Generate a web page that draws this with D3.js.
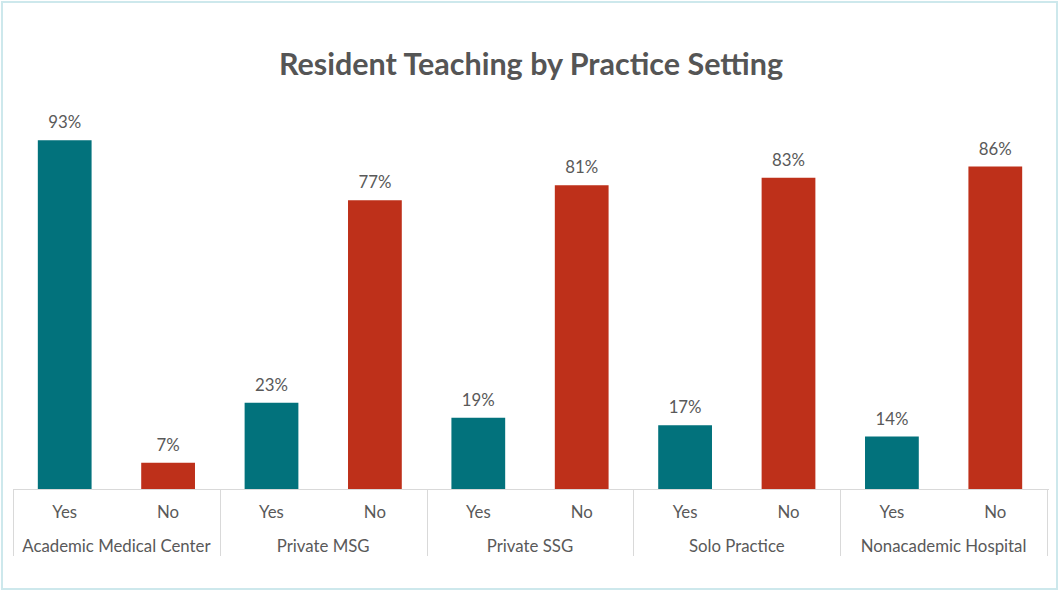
<!DOCTYPE html>
<html><head><meta charset="utf-8">
<script src="https://cdn.jsdelivr.net/npm/d3@7"></script>
<style>body{margin:0;background:#fff;} svg{display:block;font-family:Lato,"Open Sans",sans-serif;}</style>
</head><body>
<svg id="c" width="1059" height="592"></svg>
<script>
const categories = ["Academic Medical Center","Private MSG","Private SSG","Solo Practice","Nonacademic Hospital"];
const answers = ["Yes","No"];
const yesValues = [93,23,19,17,14];
const noValues = [7,77,81,83,86];
const colors = {Yes:"#02727C", No:"#BE301A"};

const svg = d3.select("#c");
const W=1059,H=592;
svg.append("rect").attr("x",2).attr("y",2).attr("width",W-4).attr("height",H-5)
  .attr("fill","#fff").attr("stroke","#cde8ec").attr("stroke-width",2);

svg.append("text").attr("x",531).attr("y",75).attr("text-anchor","middle")
  .attr("font-size",30.5).attr("font-weight","bold").attr("fill","#555")
  .text("Resident Teaching by Practice Setting");

const left=13,right=1047,base=489;
const x0=d3.scaleBand().domain(categories).range([left,right]);
const x1=d3.scaleBand().domain(answers).range([0,x0.bandwidth()]).paddingInner(0.48).paddingOuter(0.24);
const y=d3.scaleLinear().domain([0,100]).range([base,114]);

const data = categories.map((c,i)=>({cat:c, vals:[{k:"Yes",v:yesValues[i]},{k:"No",v:noValues[i]}]}));
const g=svg.selectAll("g.grp").data(data).join("g").attr("transform",d=>`translate(${x0(d.cat)},0)`);
g.selectAll("rect").data(d=>d.vals).join("rect")
  .attr("x",d=>x1(d.k)).attr("width",x1.bandwidth())
  .attr("y",d=>y(d.v)).attr("height",d=>base-y(d.v)).attr("fill",d=>colors[d.k]);
g.selectAll("text.val").data(d=>d.vals).join("text").attr("class","val")
  .attr("x",d=>x1(d.k)+x1.bandwidth()/2).attr("y",d=>y(d.v)-12)
  .attr("text-anchor","middle").attr("font-size",16.8).attr("fill","#595959")
  .text(d=>d.v+"%");
g.selectAll("text.ans").data(d=>d.vals).join("text").attr("class","ans")
  .attr("x",d=>x1(d.k)+x1.bandwidth()/2).attr("y",518)
  .attr("text-anchor","middle").attr("font-size",16.8).attr("fill","#595959")
  .text(d=>d.k);
g.append("text").attr("x",x0.bandwidth()/2).attr("y",552).attr("text-anchor","middle")
  .attr("font-size",16.8).attr("fill","#595959").text(d=>d.cat);

// axis lines
svg.append("line").attr("x1",left).attr("x2",right+2).attr("y1",base+0.5).attr("y2",base+0.5).attr("stroke","#d9d9d9");
const divs = categories.map(c=>x0(c)).concat([right]);
svg.selectAll("line.div").data(divs).join("line").attr("class","div")
  .attr("x1",d=>Math.round(d)+0.5).attr("x2",d=>Math.round(d)+0.5)
  .attr("y1",base).attr("y2",556).attr("stroke","#d9d9d9");
</script>
</body></html>
